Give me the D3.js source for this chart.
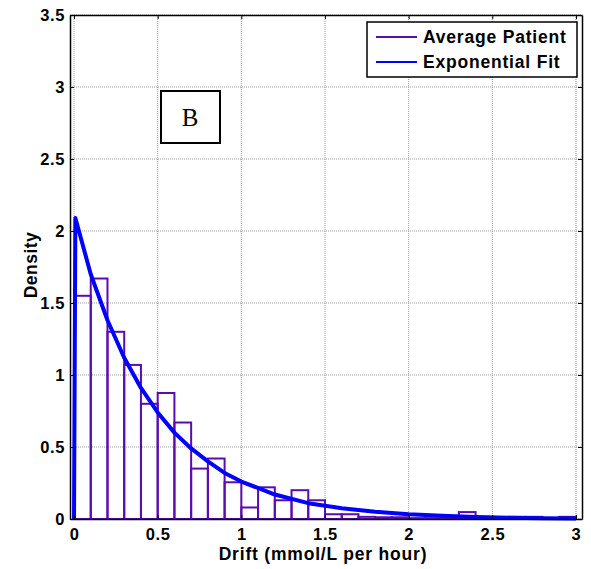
<!DOCTYPE html>
<html>
<head>
<meta charset="utf-8">
<script src="https://cdn.jsdelivr.net/npm/d3@7"></script>
<style>
  body { margin: 0; background: #fff; }
  text { font-family: "Liberation Sans", Arial, sans-serif; }
</style>
</head>
<body>
<div id="chart"></div>
<script>
// histogram bins (left edge, width 0.1) and their density
const binStarts = [0, 0.1, 0.2, 0.3, 0.4, 0.5, 0.6, 0.7, 0.8, 0.9,
                   1.0, 1.1, 1.2, 1.3, 1.4, 1.5, 1.6, 1.7, 1.8, 1.9,
                   2.0, 2.1, 2.2, 2.3, 2.4, 2.5, 2.6, 2.7, 2.8, 2.9];
const binDensity = [1.55, 1.67, 1.30, 1.07, 0.80, 0.875, 0.67, 0.35, 0.42, 0.255,
                    0.08, 0.22, 0.13, 0.20, 0.13, 0.033, 0.033, 0.015, 0.012, 0.012,
                    0.006, 0.006, 0.006, 0.048, 0.012, 0.012, 0.015, 0.015, 0.006, 0.015];
const binWidth = 0.1;

// exponential fit curve
const fitX = [0, 0.008, 0.1, 0.2, 0.3, 0.4, 0.5, 0.6, 0.7, 0.8, 0.9, 1.0,
              1.2, 1.4, 1.6, 1.8, 2.0, 2.2, 2.4, 2.6, 2.8, 3.0];
const fitY = [0, 2.09, 1.70, 1.38, 1.12, 0.91, 0.74, 0.60, 0.49, 0.40, 0.32, 0.26,
              0.17, 0.11, 0.075, 0.05, 0.033, 0.022, 0.014, 0.009, 0.006, 0.004];

const xTicks = [0, 0.5, 1, 1.5, 2, 2.5, 3];
const yTicks = [0, 0.5, 1, 1.5, 2, 2.5, 3, 3.5];
const legendLabels = ["Average Patient", "Exponential Fit"];

const width = 591, height = 569;
const plotL = 70, plotR = 582, plotT = 15, plotB = 519;
const purple = "#5a0cb0", blue = "#0000ff";

const svg = d3.select("#chart").append("svg")
    .attr("width", width)
    .attr("height", height);

const x = d3.scaleLinear().domain([-0.024, 3.036]).range([plotL, plotR]);
const y = d3.scaleLinear().domain([0, 3.5]).range([plotB, plotT]);

// grid
const grid = svg.append("g");
xTicks.forEach(t => {
    grid.append("line")
        .attr("x1", x(t)).attr("x2", x(t))
        .attr("y1", plotT).attr("y2", plotB)
        .attr("stroke", "#999").attr("stroke-width", 1)
        .attr("stroke-dasharray", "1,1");
});
yTicks.forEach(t => {
    grid.append("line")
        .attr("x1", plotL).attr("x2", plotR)
        .attr("y1", y(t)).attr("y2", y(t))
        .attr("stroke", "#999").attr("stroke-width", 1)
        .attr("stroke-dasharray", "1,1");
});

// bars
svg.append("g").selectAll("rect")
    .data(binStarts)
    .join("rect")
    .attr("x", d => x(d))
    .attr("width", d => x(d + binWidth) - x(d))
    .attr("y", (d, i) => y(binDensity[i]))
    .attr("height", (d, i) => y(0) - y(binDensity[i]))
    .attr("fill", "none")
    .attr("stroke", purple)
    .attr("stroke-width", 2);

// fit line
const line = d3.line()
    .x(d => x(d[0]))
    .y(d => y(d[1]));
svg.append("path")
    .datum(fitX.map((v, i) => [v, fitY[i]]))
    .attr("d", line)
    .attr("fill", "none")
    .attr("stroke", blue)
    .attr("stroke-width", 4)
    .attr("stroke-linejoin", "round");

// axes: box with inward ticks
const tickLen = 4;
const xAxisB = d3.axisBottom(x).tickValues(xTicks).tickSizeInner(-tickLen).tickSizeOuter(0)
    .tickPadding(9).tickFormat(d3.format("~g"));
const xAxisT = d3.axisTop(x).tickValues(xTicks).tickSizeInner(-tickLen).tickSizeOuter(0)
    .tickFormat("");
const yAxisL = d3.axisLeft(y).tickValues(yTicks).tickSizeInner(-tickLen).tickSizeOuter(0)
    .tickPadding(5).tickFormat(d3.format("~g"));
const yAxisR = d3.axisRight(y).tickValues(yTicks).tickSizeInner(-tickLen).tickSizeOuter(0)
    .tickFormat("");

function styleAxis(g) {
    g.select(".domain").attr("stroke", "#000").attr("stroke-width", 1.5);
    g.selectAll(".tick line").attr("stroke", "#000");
    g.selectAll(".tick text")
        .attr("fill", "#000")
        .style("font-size", "16.5px")
        .style("font-weight", "bold")
        .style("letter-spacing", "0.6px")
        .style("font-family", "'Liberation Sans', Arial, sans-serif");
}

svg.append("g").attr("transform", `translate(0,${plotB})`).call(xAxisB).call(styleAxis);
svg.append("g").attr("transform", `translate(0,${plotT})`).call(xAxisT).call(styleAxis);
svg.append("g").attr("transform", `translate(${plotL},0)`).call(yAxisL).call(styleAxis);
svg.append("g").attr("transform", `translate(${plotR},0)`).call(yAxisR).call(styleAxis);

// axis titles
svg.append("text")
    .attr("x", 323)
    .attr("y", 560)
    .attr("text-anchor", "middle")
    .style("font-size", "17.5px")
    .style("font-weight", "bold")
    .style("letter-spacing", "0.8px")
    .text("Drift (mmol/L per hour)");

svg.append("text")
    .attr("transform", "translate(37,265) rotate(-90)")
    .attr("text-anchor", "middle")
    .style("font-size", "17.5px")
    .style("font-weight", "bold")
    .style("letter-spacing", "0.5px")
    .text("Density");

// legend
const legend = svg.append("g");
legend.append("rect")
    .attr("x", 367).attr("y", 22)
    .attr("width", 210).attr("height", 55)
    .attr("fill", "#fff").attr("stroke", "#000").attr("stroke-width", 1.5);
const legendColors = [purple, blue];
legendLabels.forEach((label, i) => {
    const ly = 37 + i * 25;
    legend.append("line")
        .attr("x1", 376).attr("x2", 417)
        .attr("y1", ly).attr("y2", ly)
        .attr("stroke", legendColors[i]).attr("stroke-width", 2);
    legend.append("text")
        .attr("x", 423).attr("y", ly + 6)
        .style("font-size", "17.5px")
        .style("font-weight", "bold")
        .style("letter-spacing", "0.8px")
        .text(label);
});

// panel label
svg.append("rect")
    .attr("x", 161).attr("y", 91)
    .attr("width", 59).attr("height", 52)
    .attr("fill", "#fff").attr("stroke", "#000").attr("stroke-width", 2);
svg.append("text")
    .attr("x", 190).attr("y", 126)
    .attr("text-anchor", "middle")
    .style("font-family", "'Liberation Serif', 'Times New Roman', serif")
    .style("font-size", "25px")
    .text("B");
</script>
</body>
</html>
